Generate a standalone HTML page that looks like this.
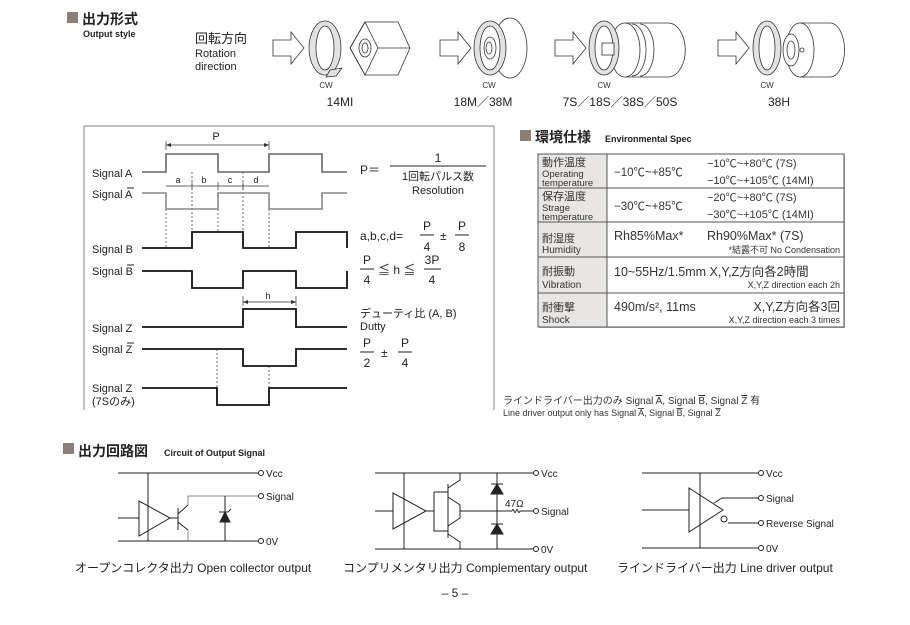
<!DOCTYPE html>
<html><head><meta charset="utf-8"><style>
html,body{margin:0;padding:0;background:#fff;}
svg{display:block;font-family:"Liberation Sans","Noto Sans CJK JP",sans-serif;}
</style></head><body>
<svg width="910" height="625" viewBox="0 0 910 625" xmlns="http://www.w3.org/2000/svg">
<rect x="67" y="12" width="11" height="11" fill="#8a7f77"/>
<text x="82" y="24" font-size="14" font-weight="bold" fill="#222">出力形式</text>
<text x="83" y="37" font-size="9" font-weight="bold" fill="#222">Output style</text>
<text x="195" y="43" font-size="13" fill="#222">回転方向</text>
<text x="195" y="57" font-size="11" fill="#222">Rotation</text>
<text x="195" y="70" font-size="11" fill="#222">direction</text>

<g fill="none" stroke="#333" stroke-width="0.8">
<path d="M273,40 h18 v-8 l13,16 l-13,16 v-8 h-18 z" fill="#fff"/>
<ellipse cx="325" cy="48" rx="16" ry="27" fill="#e2e2e2"/>
<ellipse cx="325" cy="48" rx="9" ry="22" fill="#fff"/>
<path d="M330,70 l12,-2 l-6,8 l-10,1 z" fill="#e2e2e2"/>
<path d="M350,48 L365,22 H398 L410,48 L398,75 H365 Z" fill="#fff"/>
<path d="M350,48 L365,22 L378,48 L365,75 Z M378,48 H410"/>
<ellipse cx="365" cy="48" rx="6" ry="9"/><ellipse cx="365" cy="48" rx="3" ry="5"/>
<path d="M440,40 h18 v-8 l13,16 l-13,16 v-8 h-18 z" fill="#fff"/>
<ellipse cx="510" cy="48" rx="17" ry="30" fill="#fff"/>
<ellipse cx="490" cy="48" rx="16" ry="27" fill="#e2e2e2"/>
<ellipse cx="490" cy="48" rx="10" ry="22" fill="#fff"/>
<ellipse cx="490" cy="48" rx="6" ry="11"/><ellipse cx="489" cy="48" rx="3" ry="6"/>
<path d="M555,40 h18 v-8 l13,16 l-13,16 v-8 h-18 z" fill="#fff"/>
<path d="M625,23 H668 A16,25 0 0 1 668,77 H625" fill="#fff"/>
<ellipse cx="625" cy="50" rx="15" ry="27" fill="#fff"/>
<path d="M632,24 a14,26 0 0 1 0,52 M640,24 a14,26 0 0 1 0,52"/>
<ellipse cx="604" cy="48" rx="15" ry="27" fill="#e2e2e2"/>
<ellipse cx="604" cy="48" rx="9" ry="22" fill="#fff"/>
<rect x="602" y="43" width="12" height="12" fill="#fff"/>
<path d="M718,40 h18 v-8 l13,16 l-13,16 v-8 h-18 z" fill="#fff"/>
<path d="M800,23 H830 A14,26 0 0 1 830,77 H800" fill="#fff"/>
<ellipse cx="800" cy="50" rx="14" ry="27" fill="#fff"/>
<ellipse cx="791" cy="50" rx="8" ry="16" fill="#fff"/>
<ellipse cx="791" cy="50" rx="4" ry="9"/><circle cx="802" cy="50" r="2"/>
<ellipse cx="767" cy="48" rx="14" ry="27" fill="#e2e2e2"/>
<ellipse cx="767" cy="48" rx="8" ry="22" fill="#fff"/>
</g>
<g font-size="8" fill="#333" text-anchor="middle">
<text x="326" y="88">CW</text><text x="489" y="88">CW</text><text x="604" y="88">CW</text><text x="767" y="88">CW</text>
</g>
<g font-size="12" fill="#222" text-anchor="middle">
<text x="340" y="106">14MI</text><text x="483" y="106">18M／38M</text><text x="620" y="106">7S／18S／38S／50S</text><text x="779" y="106">38H</text>
</g>

<path d="M84,410 V126 H494 V410" fill="none" stroke="#999" stroke-width="1.2"/>
<g font-size="11" fill="#222">
<text x="92" y="177">Signal A</text>
<text x="92" y="198">Signal A</text><line x1="127" y1="188" x2="134" y2="188" stroke="#222"/>
<text x="92" y="253">Signal B</text>
<text x="92" y="275">Signal B</text><line x1="127" y1="265" x2="134" y2="265" stroke="#222"/>
<text x="92" y="332">Signal Z</text>
<text x="92" y="353">Signal Z</text><line x1="127" y1="343" x2="134" y2="343" stroke="#222"/>
<text x="92" y="392">Signal Z</text>
<text x="92" y="405">(7Sのみ)</text>
</g>
<g fill="none" stroke="#333" stroke-width="0.7">
<path d="M166,145 H269 M166,141 V150 M269,141 V150"/>
<path d="M166,186 H269 M192,182 V190 M218,182 V190 M243,182 V190"/>
<path d="M243,302 H296 M243,296 V306 M296,296 V306"/>
</g>
<g fill="#333"><path d="M166,145 l5,-2 v4 z M269,145 l-5,-2 v4 z M243,302 l5,-2 v4z M296,302 l-5,-2 v4z"/></g>
<g font-size="9" fill="#222" text-anchor="middle">
<text x="216" y="140" font-size="11">P</text><text x="178" y="183">a</text><text x="204" y="183">b</text><text x="230" y="183">c</text><text x="256" y="183">d</text><text x="268" y="299">h</text>
</g>
<g fill="none" stroke="#333" stroke-width="0.7" stroke-dasharray="2,2">
<path d="M166,209 V248 M192,172 V232 M218,209 V232 M243,172 V232 M269,209 V248 M217,349 V388 M269,366 V388"/>
</g>
<g fill="none" stroke-width="1.6">
<path d="M142,172 H166 V154 H218 V172 H269 V154 H322 V172 H347" stroke="#666"/>
<path d="M142,193 H166 V209 H218 V193 H269 V209 H322 V193 H347" stroke="#888"/>
<path d="M142,248 H192 V232 H243 V248 H296 V232 H347 V248" stroke="#111" stroke-width="1.8"/>
<path d="M142,271 H192 V288 H243 V271 H296 V288 H347 V271" stroke="#111" stroke-width="1.8"/>
<path d="M142,327 H243 V309 H296 V327 H347" stroke="#111" stroke-width="1.8"/>
<path d="M142,349 H243 V366 H296 V349 H347" stroke="#111" stroke-width="1.8"/>
<path d="M142,388 H217 V405 H269 V388 H347" stroke="#111" stroke-width="1.8"/>
</g>
<g font-size="12" fill="#222">
<text x="360" y="174">P＝</text>
<text x="438" y="162" text-anchor="middle">1</text>
<line x1="390" y1="166" x2="486" y2="166" stroke="#222"/>
<text x="438" y="180" text-anchor="middle" font-size="11">1回転パルス数</text>
<text x="438" y="194" text-anchor="middle" font-size="11">Resolution</text>
<text x="360" y="240">a,b,c,d=</text>
<text x="427" y="230" text-anchor="middle">P</text><line x1="420" y1="235" x2="434" y2="235" stroke="#222"/><text x="427" y="251" text-anchor="middle">4</text>
<text x="440" y="240">±</text>
<text x="462" y="230" text-anchor="middle">P</text><line x1="455" y1="235" x2="469" y2="235" stroke="#222"/><text x="462" y="251" text-anchor="middle">8</text>
<text x="367" y="264" text-anchor="middle">P</text><line x1="360" y1="269" x2="374" y2="269" stroke="#222"/><text x="367" y="284" text-anchor="middle">4</text>
<text x="378" y="274">≦ h ≦</text>
<text x="432" y="264" text-anchor="middle">3P</text><line x1="424" y1="269" x2="441" y2="269" stroke="#222"/><text x="432" y="284" text-anchor="middle">4</text>
<text x="360" y="317" font-size="11">デューティ比 (A, B)</text>
<text x="360" y="330" font-size="11">Dutty</text>
<text x="367" y="347" text-anchor="middle">P</text><line x1="360" y1="352" x2="374" y2="352" stroke="#222"/><text x="367" y="367" text-anchor="middle">2</text>
<text x="381" y="357">±</text>
<text x="405" y="347" text-anchor="middle">P</text><line x1="398" y1="352" x2="412" y2="352" stroke="#222"/><text x="405" y="367" text-anchor="middle">4</text>
</g>

<rect x="520" y="130" width="11" height="11" fill="#8a7f77"/>
<text x="535" y="142" font-size="14" font-weight="bold" fill="#222">環境仕様</text>
<text x="605" y="142" font-size="9" font-weight="bold" fill="#222">Environmental Spec</text>
<rect x="539" y="155" width="306" height="173" fill="#bbb"/>
<rect x="538" y="154" width="306" height="173" fill="#fff" stroke="#555" stroke-width="1"/>
<rect x="538.5" y="154.5" width="68.5" height="172" fill="#e8e6e4"/>
<g stroke="#555" stroke-width="1"><line x1="607" y1="154" x2="607" y2="327"/><line x1="538" y1="188" x2="844" y2="188"/><line x1="538" y1="222" x2="844" y2="222"/><line x1="538" y1="257" x2="844" y2="257"/><line x1="538" y1="293" x2="844" y2="293"/></g>
<g fill="#333">
<text x="542" y="166" font-size="11">動作温度</text><text x="542" y="177" font-size="9.5">Operating</text><text x="542" y="186" font-size="9.5">temperature</text>
<text x="542" y="200" font-size="11">保存温度</text><text x="542" y="211" font-size="9.5">Strage</text><text x="542" y="220" font-size="9.5">temperature</text>
<text x="542" y="242" font-size="11">耐湿度</text><text x="542" y="253" font-size="10">Humidity</text>
<text x="542" y="275" font-size="11">耐振動</text><text x="542" y="288" font-size="10">Vibration</text>
<text x="542" y="311" font-size="11">耐衝撃</text><text x="542" y="323" font-size="10">Shock</text>
<text x="614" y="176" font-size="11.5">−10℃~+85℃</text>
<text x="707" y="167" font-size="11">−10℃~+80℃ (7S)</text>
<text x="707" y="184" font-size="11">−10℃~+105℃ (14MI)</text>
<text x="614" y="210" font-size="11.5">−30℃~+85℃</text>
<text x="707" y="201" font-size="11">−20℃~+80℃ (7S)</text>
<text x="707" y="218" font-size="11">−30℃~+105℃ (14MI)</text>
<text x="614" y="240" font-size="12.5">Rh85%Max*</text>
<text x="707" y="240" font-size="12.5">Rh90%Max* (7S)</text>
<text x="840" y="253" font-size="9" text-anchor="end">*結露不可  No Condensation</text>
<text x="614" y="276" font-size="12.5">10~55Hz/1.5mm X,Y,Z方向各2時間</text>
<text x="840" y="288" font-size="9" text-anchor="end">X,Y,Z direction each 2h</text>
<text x="614" y="311" font-size="12.5">490m/s², 11ms</text>
<text x="840" y="311" font-size="12.5" text-anchor="end">X,Y,Z方向各3回</text>
<text x="840" y="323" font-size="9" text-anchor="end">X,Y,Z direction each 3 times</text>
</g>
<text x="503" y="404" font-size="10" fill="#333">ラインドライバー出力のみ Signal <tspan text-decoration="overline">A</tspan>, Signal <tspan text-decoration="overline">B</tspan>, Signal <tspan text-decoration="overline">Z</tspan> 有</text>
<text x="503" y="416" font-size="9" fill="#333">Line driver output only has Signal <tspan text-decoration="overline">A</tspan>, Signal <tspan text-decoration="overline">B</tspan>, Signal <tspan text-decoration="overline">Z</tspan></text>

<rect x="63" y="443" width="11" height="11" fill="#8a7f77"/>
<text x="78" y="456" font-size="14" font-weight="bold" fill="#222">出力回路図</text>
<text x="164" y="456" font-size="9" font-weight="bold" fill="#222">Circuit of Output Signal</text>
<g fill="none" stroke="#222" stroke-width="1">
<path d="M118,473 H258 M118,541 H258 M148,473 V541 M118,518 H139 M139,501 V536 L170,518 Z M170,518 H178 M178,508 V530 M178,514 L188,505 M178,522 L188,530"/>
<path d="M188,505 V496 H258 M188,530 V541" stroke="#888"/>
<path d="M225,496 V541 M219,512 L222,512 H228 L231,509"/>
<path d="M225,512 l-5,10 h10 z" fill="#222"/>
<circle cx="261" cy="473" r="2.5" fill="#fff"/><circle cx="261" cy="496" r="2.5" fill="#fff"/><circle cx="261" cy="541" r="2.5" fill="#fff"/>
<path d="M375,473 H533 M375,549 H533 M404,473 V549 M375,511 H393 M393,493 V529 L426,511 Z M426,511 H434 M434,492 H448 V531 H434 V492 M448,484 V500 M448,522 V538 M448,488 L460,480 V473 M448,497 L460,505 V511 M448,526 L460,518 V511 M448,534 L460,542 V549 M460,511 H512 M520,511 H533 M497,473 V549"/>
<path d="M512,511 q1,-3 2,0 q1,3 2,0 q1,-3 2,0 q1,3 2,0"/>
<path d="M491,484 h12 M491,524 h12"/>
<path d="M497,484 l-6,10 h12 z M497,524 l-6,10 h12 z" fill="#222"/>
<circle cx="536" cy="473" r="2.5" fill="#fff"/><circle cx="536" cy="511" r="2.5" fill="#fff"/><circle cx="536" cy="549" r="2.5" fill="#fff"/>
<path d="M642,473 H759 M642,548 H759 M700,473 V548 M642,510 H689 M689,488 V532 L723,510 Z M714,503 L722,498 H759 M728,523 H759" fill="none"/>
<circle cx="724" cy="519" r="3" fill="#fff"/>
<circle cx="761" cy="473" r="2.5" fill="#fff"/><circle cx="761" cy="498" r="2.5" fill="#fff"/><circle cx="761" cy="523" r="2.5" fill="#fff"/><circle cx="761" cy="548" r="2.5" fill="#fff"/>
</g>
<g font-size="10" fill="#222">
<text x="266" y="477">Vcc</text><text x="266" y="500">Signal</text><text x="266" y="545">0V</text>
<text x="541" y="477">Vcc</text><text x="541" y="515">Signal</text><text x="541" y="553">0V</text><text x="505" y="507">47Ω</text>
<text x="766" y="477">Vcc</text><text x="766" y="502">Signal</text><text x="766" y="527">Reverse Signal</text><text x="766" y="552">0V</text>
</g>
<g font-size="12" fill="#222">
<text x="75" y="572">オープンコレクタ出力 Open collector output</text>
<text x="343" y="572">コンプリメンタリ出力 Complementary output</text>
<text x="617" y="572">ラインドライバー出力 Line driver output</text>
<text x="455" y="597" text-anchor="middle">– 5 –</text>
</g>
</svg>
</body></html>
